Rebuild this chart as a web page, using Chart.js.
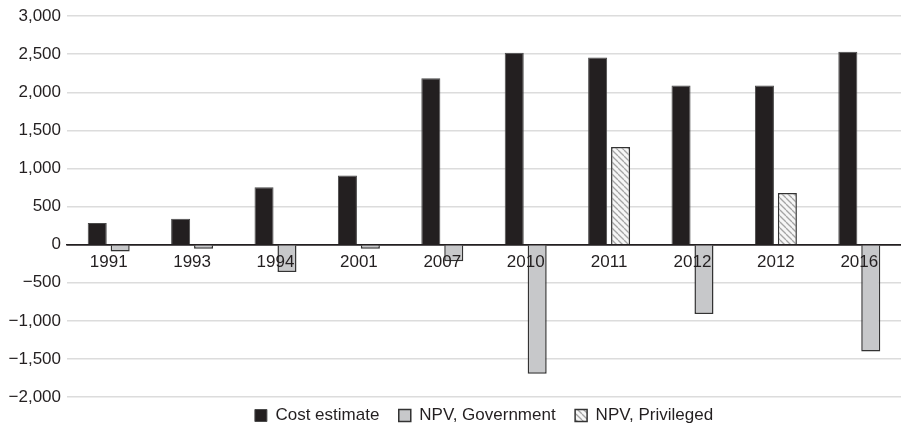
<!DOCTYPE html>
<html>
<head>
<meta charset="utf-8">
<script src="https://cdn.jsdelivr.net/npm/chart.js@4"></script>
<style>
  html, body { margin: 0; padding: 0; background: #fff; }
  #wrap { width: 901px; height: 426px; position: relative; }
</style>
</head>
<body>
<div id="wrap"><canvas id="chart"></canvas></div>
<script>
const years = ['1991', '1993', '1994', '2001', '2007', '2010', '2011', '2012', '2012', '2016'];
const costEstimate = [285, 342, 753, 907, 2185, 2519, 2457, 2089, 2089, 2532];
const npvGovernment = [-88, -53, -359, -53, -219, -1695, null, -911, null, -1402];
const npvPrivileged = [null, null, null, null, null, null, 1284, null, 679, null];
const yTicks = [-2000, -1500, -1000, -500, 0, 500, 1000, 1500, 2000, 2500, 3000];

// diagonal hatch for the privileged series
function hatch() {
  const s = 6;
  const c = document.createElement('canvas');
  c.width = s; c.height = s;
  const g = c.getContext('2d');
  g.fillStyle = '#f6f6f6';
  g.fillRect(0, 0, s, s);
  g.strokeStyle = '#a4a4a4';
  g.lineWidth = 1.3;
  [-s, 0, s].forEach(off => {
    g.beginPath();
    g.moveTo(0, off);
    g.lineTo(s, s + off);
    g.stroke();
  });
  return g.createPattern(c, 'repeat');
}

const font = { family: '"Liberation Sans", Arial, sans-serif', size: 17 };
const ink = '#231f20';

function fmt(v) {
  const s = Math.abs(v).toLocaleString('en-US');
  return v < 0 ? '\u2212' + s : s;
}

// legend sits centred under the plot area, not the whole canvas
const shiftLegend = {
  id: 'shiftLegend',
  afterLayout(chart) {
    const lg = chart.legend;
    const dx = (chart.chartArea.left + chart.chartArea.right) / 2 - (lg.left + lg.right) / 2;
    lg.left += dx;
    lg.right += dx;
  }
};

const ctx = document.getElementById('chart').getContext('2d');
new Chart(ctx, {
  type: 'bar',
  data: {
    labels: years,
    datasets: [
      { label: 'Cost estimate', data: costEstimate, stack: 'cost',
        backgroundColor: ink, borderColor: '#4a4a4a', borderWidth: 1 },
      { label: 'NPV, Government', data: npvGovernment, stack: 'npv',
        backgroundColor: '#c7c8ca', borderColor: '#333', borderWidth: 1.5 },
      { label: 'NPV, Privileged', data: npvPrivileged, stack: 'npv',
        backgroundColor: hatch(), borderColor: '#333', borderWidth: 1.5 }
    ]
  },
  plugins: [shiftLegend],
  options: {
    responsive: true,
    maintainAspectRatio: false,
    animation: false,
    categoryPercentage: 0.55,
    barPercentage: 0.83,
    layout: { padding: { top: 10, right: 0, bottom: -8, left: 0 } },
    plugins: {
      tooltip: { enabled: false },
      legend: {
        position: 'bottom',
        labels: {
          font: font, color: ink, boxWidth: 12, boxHeight: 12, padding: 10,
          generateLabels: chart => {
            const items = Chart.defaults.plugins.legend.labels.generateLabels(chart);
            items.forEach((it, i) => { if (i < items.length - 1) it.text += '  '; });
            return items;
          }
        }
      }
    },
    scales: {
      x: {
        stacked: true,
        position: { y: 0 },
        grid: { display: false, drawTicks: false },
        border: { display: true, color: ink, width: 1.5 },
        ticks: { font: font, color: ink, padding: 7, maxRotation: 0, autoSkip: false, z: 1 }
      },
      y: {
        stacked: true,
        min: -2000,
        max: 3000,
        afterBuildTicks: s => { s.ticks = yTicks.map(v => ({ value: v })); },
        afterFit: s => { s.width = 67; },
        grid: {
          drawTicks: false,
          lineWidth: 1.6,
          color: c => c.tick && c.tick.value === 0 ? ink : '#dcdcdc'
        },
        border: { display: false },
        ticks: { font: font, color: ink, padding: 6, callback: v => fmt(v) }
      }
    }
  }
});
</script>
</body>
</html>
